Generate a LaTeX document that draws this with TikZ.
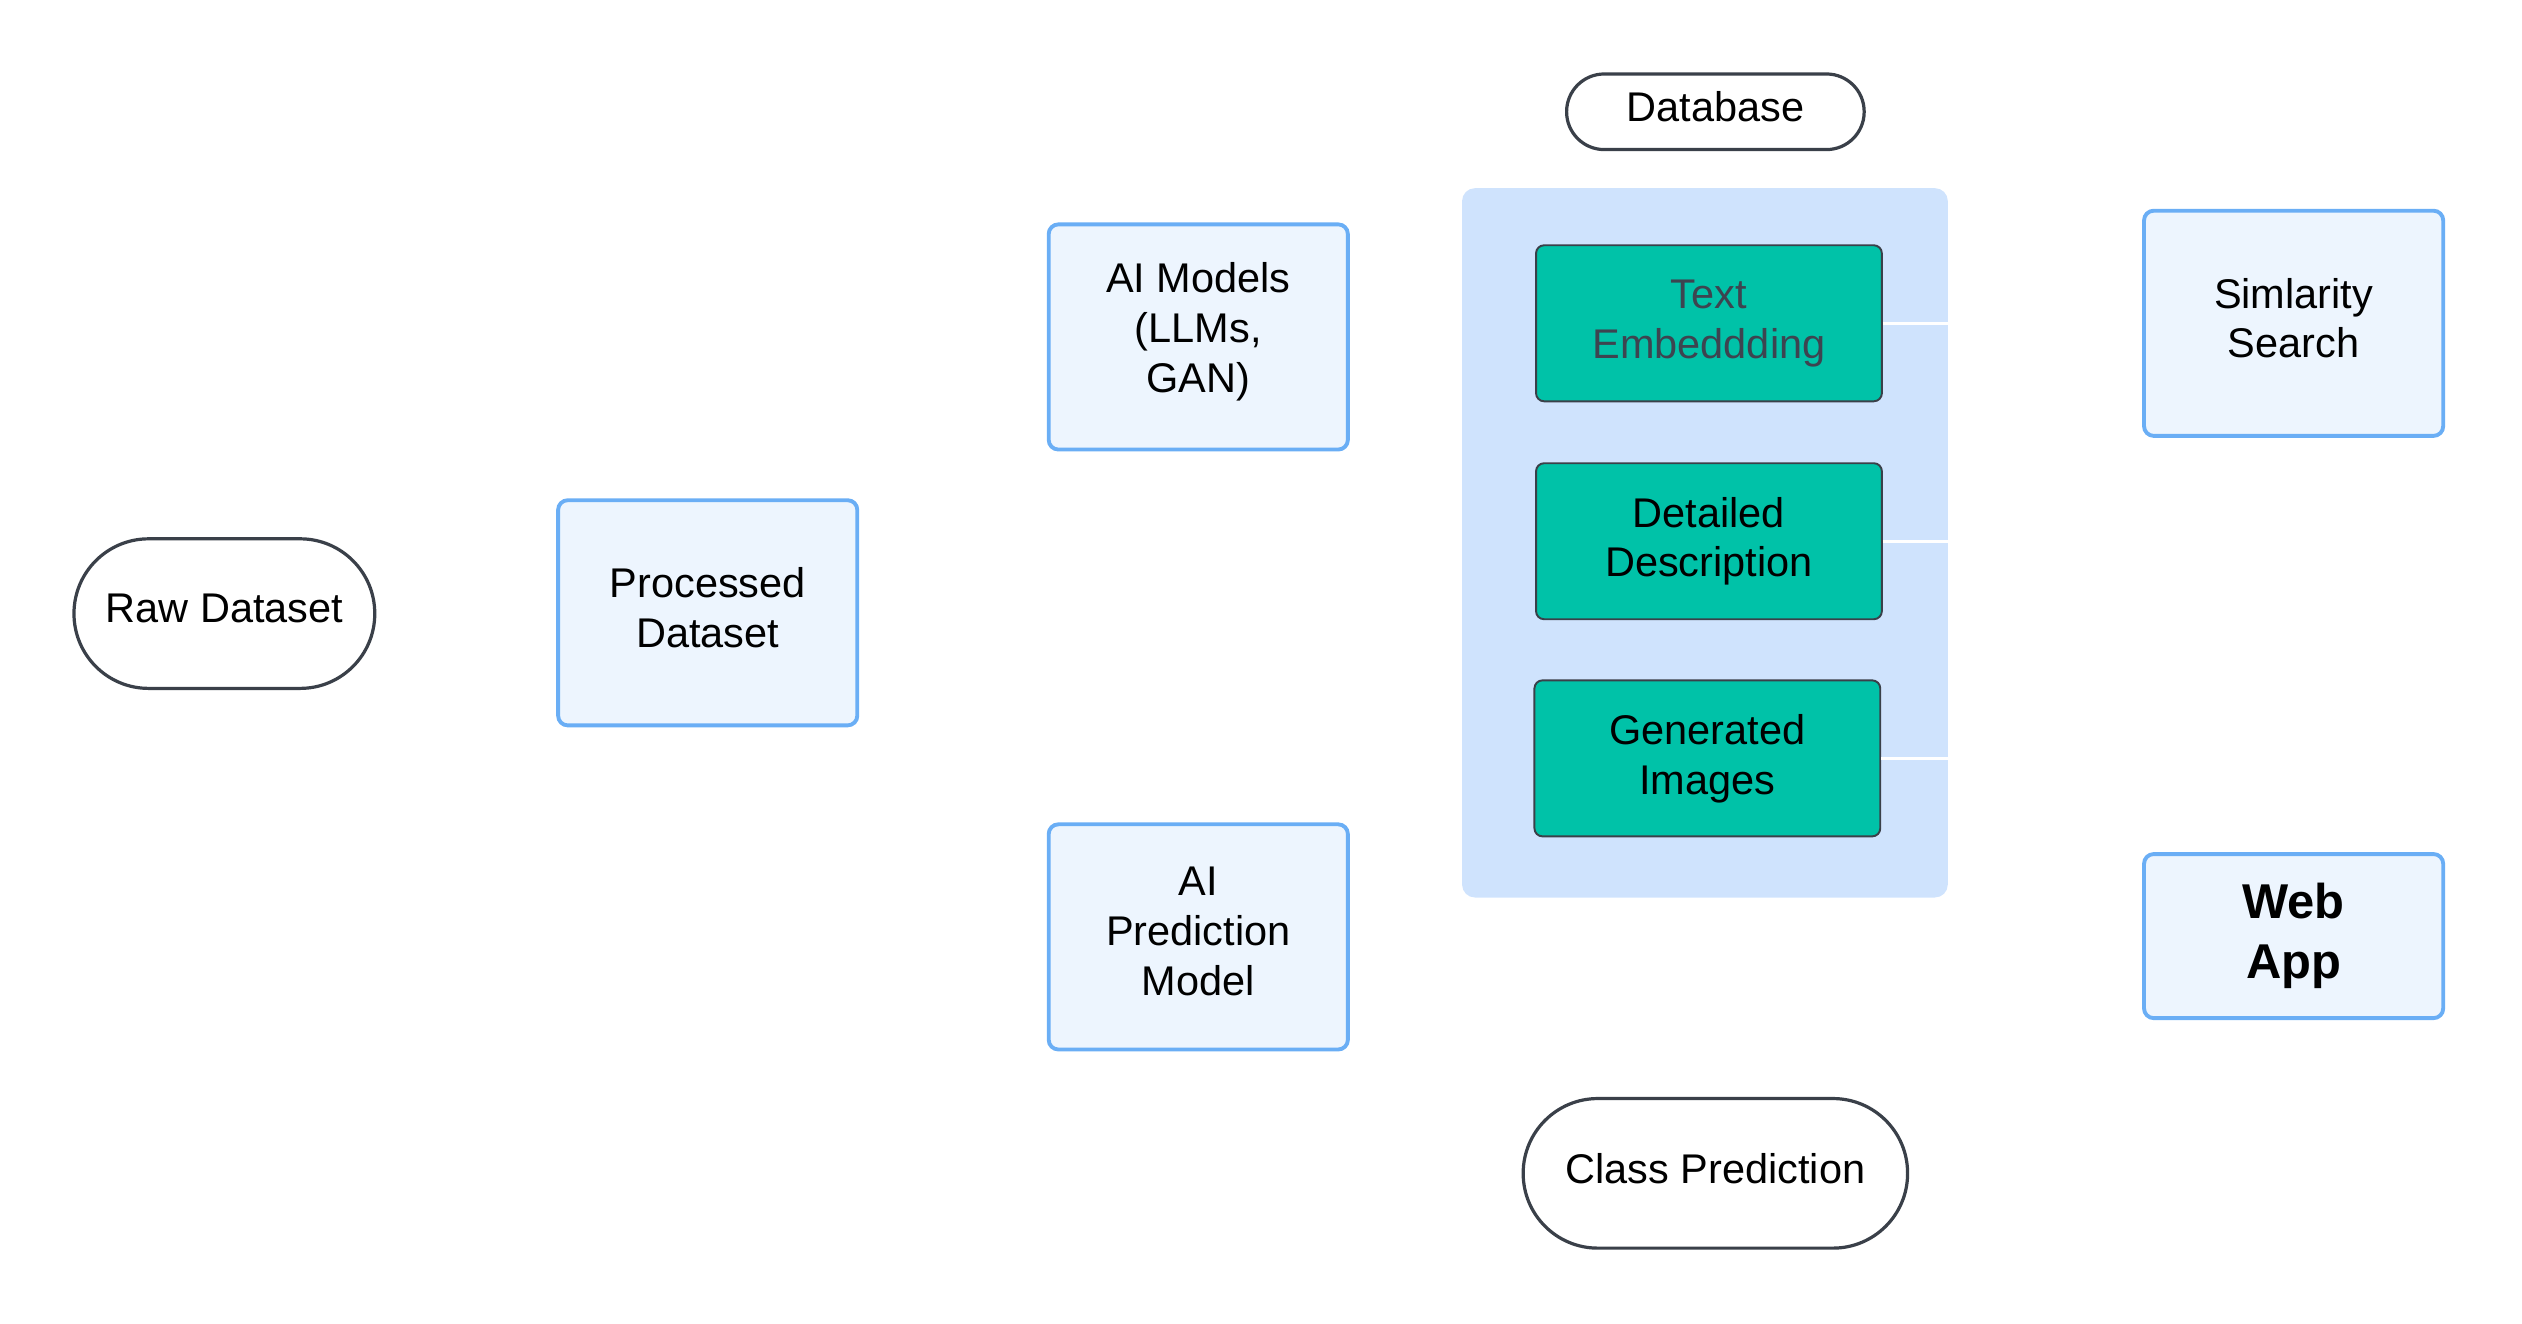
\documentclass[tikz,border=0pt]{standalone}
\usepackage{fontspec}
\setmainfont{Liberation Sans}
\definecolor{boxfill}{HTML}{EDF5FE}
\definecolor{boxline}{HTML}{6AAEF5}
\definecolor{contfill}{HTML}{CFE3FD}
\definecolor{teal}{HTML}{00C2A8}
\definecolor{darkline}{HTML}{3A4049}
\definecolor{greytext}{HTML}{3D4450}
\begin{document}
\begin{tikzpicture}[x=0.5pt,y=-0.5pt,
  txt/.style={font=\fontsize{12.9}{15.5}\selectfont, align=center, text=black, inner sep=0pt},
  bluebox/.style={draw=boxline, fill=boxfill, line width=1.2pt, rounded corners=3pt,
     minimum width=93pt, minimum height=70pt, inner sep=0pt},
  stadium/.style={draw=darkline, fill=white, line width=1pt, rounded corners=#1,
     minimum height=46.5pt, inner sep=0pt},
  tealbox/.style={draw=darkline, fill=teal, line width=0.6pt, rounded corners=2.5pt,
     minimum width=107.5pt, minimum height=48.5pt, inner sep=0pt},
  container/.style={fill=contfill, rounded corners=4pt, minimum width=151pt, minimum height=220.5pt, inner sep=0pt},
  whiteline/.style={draw=white, line width=1pt},
  lift/.style={yshift=1.6pt}
]
\useasboundingbox (0,0) rectangle (1568,823);

% shapes
\node[stadium=23.2pt, minimum width=93.5pt] (raw) at (139.5,381.5) {};
\node[bluebox] (proc) at (440,381) {};
\node[bluebox] (aim) at (745,209.5) {};
\node[bluebox] (aip) at (745,582.5) {};
\node[stadium=11.7pt, minimum width=92.5pt, minimum height=23.5pt] (db) at (1066.5,69.5) {};

\node[container] (cont) at (1060,337.5) {};
\node[tealbox] (te) at (1062.5,201) {};
\node[tealbox] (dd) at (1062.5,336.5) {};
\node[tealbox] (gi) at (1061.5,471.5) {};

\coordinate (teR) at (cont.east |- te.east);
\coordinate (ddR) at (cont.east |- dd.east);
\coordinate (giR) at (cont.east |- gi.east);
\draw[whiteline] (te.east) -- (teR);
\draw[whiteline] (dd.east) -- (ddR);
\draw[whiteline] (gi.east) -- (giR);

\node[bluebox] (sim) at (1426,201) {};
\node[bluebox, minimum height=51pt] (web) at (1426,582) {};
\node[stadium=23.2pt, minimum width=119.5pt] (cls) at (1066.5,729.5) {};

% texts
\node[txt] (rawT) at ([lift]raw.center) {Raw Dataset};
\node[txt] (procT) at ([lift]proc.center) {Processed\\Dataset};
\node[txt] (aimT) at ([lift]aim.center) {AI Models\\(LLMs,\\GAN)};
\node[txt] (aipT) at ([lift]aip.center) {AI\\Prediction\\Model};
\node[txt] (dbT) at ([lift]db.center) {Database};
\node[txt, text=greytext] (teT) at (te.center) {Text\\Embeddding};
\node[txt] (ddT) at (dd.center) {Detailed\\Description};
\node[txt] (giT) at (gi.center) {Generated\\Images};
\node[txt] (simT) at ([lift]sim.center) {Simlarity\\Search};
\node[txt, font=\fontsize{15.2}{18.5}\selectfont\bfseries] (webT) at (web.center) {Web\\App};
\node[txt] (clsT) at ([lift]cls.center) {Class Prediction};
\end{tikzpicture}
\end{document}
